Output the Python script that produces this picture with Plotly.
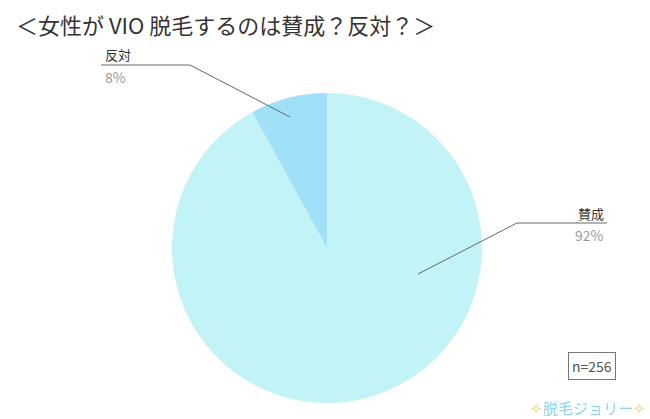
import plotly.graph_objects as go

labels = ["賛成", "反対"]
values = [92, 8]
colors = ["#c2f3f6", "#a0e0f9"]
title_text = "＜女性が VIO 脱毛するのは賛成？反対？＞"
n_text = "n=256"

W, H = 650, 419
FONT = "Noto Sans CJK JP"

def px(x):
    return x / W

def py(y):
    return 1 - y / H

cx, cy, r = 327, 248, 155

fig = go.Figure(go.Pie(
    labels=labels, values=values, sort=False, direction="clockwise",
    rotation=0, marker=dict(colors=colors, line=dict(width=0)),
    textinfo="none", hoverinfo="label+percent", showlegend=False,
    domain=dict(x=[px(cx - r), px(cx + r)], y=[py(cy + r), py(cy - r)]),
))

line_col = "#666666"
shapes = [
    dict(type="line", xref="paper", yref="paper", x0=px(290), y0=py(117), x1=px(190), y1=py(65),
         line=dict(color=line_col, width=1)),
    dict(type="line", xref="paper", yref="paper", x0=px(190), y0=py(65), x1=px(101), y1=py(65),
         line=dict(color=line_col, width=1)),
    dict(type="line", xref="paper", yref="paper", x0=px(418), y0=py(274), x1=px(517), y1=py(223),
         line=dict(color=line_col, width=1)),
    dict(type="line", xref="paper", yref="paper", x0=px(517), y0=py(223), x1=px(607), y1=py(223),
         line=dict(color=line_col, width=1)),
]

annotations = [
    dict(text=title_text, x=px(14), y=py(24), xanchor="left", yanchor="middle",
         font=dict(family=FONT, size=22, color="#333333")),
    dict(text=labels[1], x=px(103), y=py(55), xanchor="left", yanchor="middle",
         font=dict(family=FONT, size=13, color="#333333")),
    dict(text=f"{values[1]}%", x=px(103), y=py(77), xanchor="left", yanchor="middle",
         font=dict(family=FONT, size=14, color="#9a9a9a")),
    dict(text=labels[0], x=px(606), y=py(213), xanchor="right", yanchor="middle",
         font=dict(family=FONT, size=13, color="#333333")),
    dict(text=f"{values[0]}%", x=px(606), y=py(235), xanchor="right", yanchor="middle",
         font=dict(family=FONT, size=14, color="#9a9a9a")),
    dict(text=n_text, x=px(592), y=py(366), xanchor="center", yanchor="middle",
         font=dict(family=FONT, size=14, color="#555555"),
         bordercolor="#777777", borderwidth=1, borderpad=3, bgcolor="white"),
    dict(text="<span style='color:#f2d46a'>✧</span>脱毛ジョリー<span style='color:#f2d46a'>✧</span>",
         x=px(588), y=py(407), xanchor="center", yanchor="middle",
         font=dict(family=FONT, size=15, color="#8fd3ee")),
]
for a in annotations:
    a.update(xref="paper", yref="paper", showarrow=False)

fig.update_layout(
    width=W, height=H, margin=dict(l=0, r=0, t=0, b=0),
    paper_bgcolor="white", plot_bgcolor="white",
    shapes=shapes, annotations=annotations,
)

fig.write_html("out.html", config={"displayModeBar": False},
               post_script="document.body.style.margin='0';document.body.style.overflow='hidden';")
